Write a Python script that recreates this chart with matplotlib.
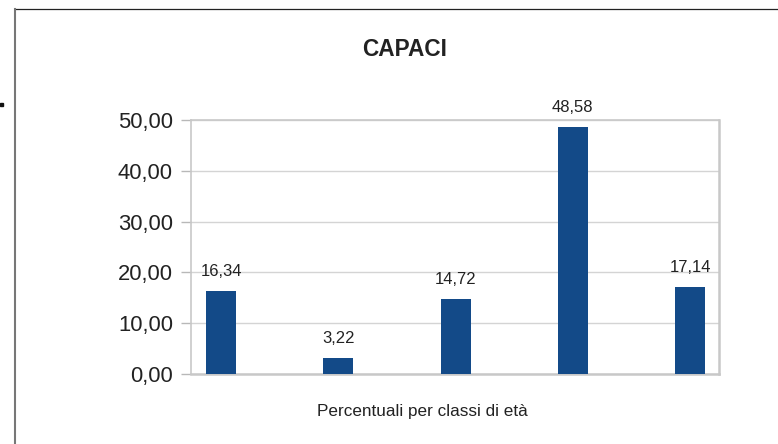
# coding:utf-8
import matplotlib
matplotlib.use('Agg')
import matplotlib.pyplot as plt
from matplotlib.lines import Line2D
from matplotlib.patches import Rectangle
from matplotlib.ticker import FuncFormatter

plt.rcParams['font.family'] = ['Liberation Sans', 'DejaVu Sans']

# dati
classi = ['1', '2', '3', '4', '5']
percentuali = [16.34, 3.22, 14.72, 48.58, 17.14]
yticks = [0, 10, 20, 30, 40, 50]
titolo = 'CAPACI'
etichetta_x = 'Percentuali per classi di età'

fig = plt.figure(figsize=(7.78, 4.44), dpi=100)
ax = fig.add_axes([0.2455, 0.1577, 0.6787, 0.572])

pos = list(range(len(classi)))
bars = ax.bar(pos, percentuali, width=0.256, color='#134a88', zorder=3)

# etichette dei valori
for x, v in zip(pos, percentuali):
    ax.annotate(('%.2f' % v).replace('.', ','), xy=(x, v), xytext=(0, 8.5),
                textcoords='offset points', ha='center', va='bottom',
                fontsize=12, color='#222222')

ax.set_xlim(-0.256, 4.247)
ax.set_ylim(0, 50)
ax.set_xticks([])
ax.set_yticks(yticks)
ax.yaxis.set_major_formatter(FuncFormatter(lambda v, p: ('%.2f' % v).replace('.', ',')))
ax.tick_params(axis='y', length=7.5, width=1, color='#b8b8b8', pad=5.5,
               labelsize=15.8, labelcolor='#222222')
ax.grid(axis='y', color='#d4d4d4', linewidth=1, zorder=0)
for s in ax.spines.values():
    s.set_color('#c8c8c8')
    s.set_linewidth(1.2)
ax.spines['bottom'].set_linewidth(1.8)
ax.spines['right'].set_linewidth(1.8)

# titolo ed etichetta asse x
fig.text(405 / 778, 1 - 50 / 444, titolo, ha='center', va='center',
         fontsize=16.3, fontweight='bold', color='#222222')
fig.text(422 / 778, 1 - 411 / 444, etichetta_x, ha='center', va='center',
         fontsize=12.3, color='#222222')

# cornice esterna
fig.add_artist(Line2D([14.5 / 778, 1], [1 - 9 / 444] * 2, transform=fig.transFigure,
                      color='#222222', linewidth=0.9))
fig.add_artist(Line2D([14.5 / 778] * 2, [0, 1 - 9 / 444], transform=fig.transFigure,
                      color='#777777', linewidth=1.5))
fig.add_artist(Rectangle((0, 1 - 106 / 444), 3 / 778, 3 / 444, transform=fig.transFigure,
                         color='#111111'))

fig.savefig('out.png', dpi=100)
